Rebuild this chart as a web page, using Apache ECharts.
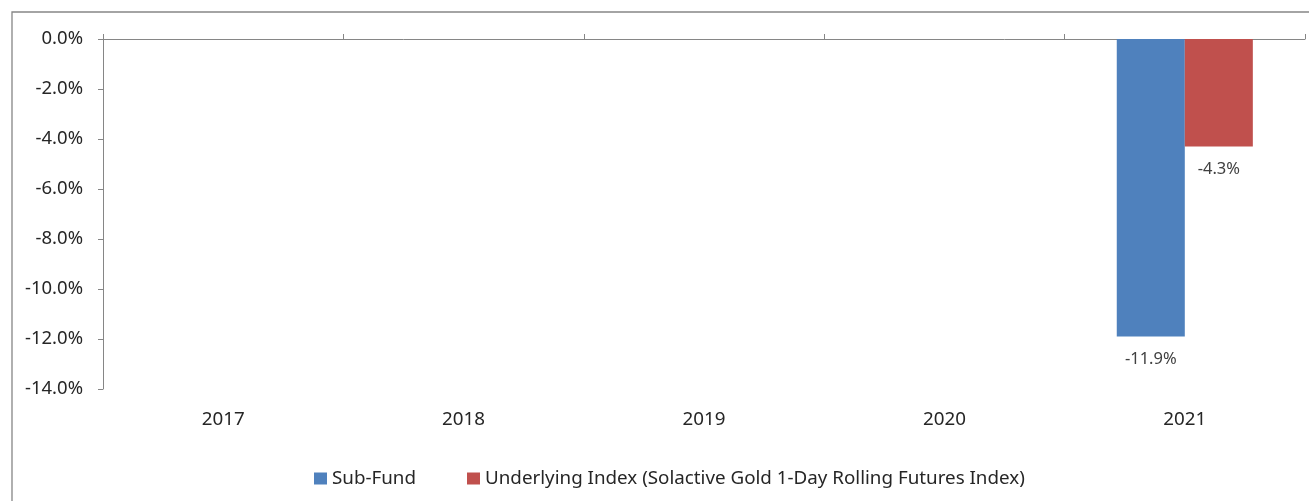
<!DOCTYPE html>
<html>
<head>
<meta charset="utf-8">
<script src="https://cdn.jsdelivr.net/npm/echarts@6/dist/echarts.min.js"></script>
<style>html,body{margin:0;padding:0;background:#fff}#c{width:1309px;height:501px}</style>
</head>
<body>
<div id="c"></div>
<script>
const categories = ['2017', '2018', '2019', '2020', '2021'];
const subFund = ['-', '-', '-', '-', -11.9];
const underlyingIndex = ['-', '-', '-', '-', -4.3];
const seriesNames = ['Sub-Fund', 'Underlying Index (Solactive Gold 1-Day Rolling Futures Index)'];

const FONT = 'Noto Sans';
const axisColor = '#868686';
const textColor = '#262626';

const chart = echarts.init(document.getElementById('c'), null, { renderer: 'canvas' });

const labelCfg = {
  show: true,
  position: 'bottom',
  distance: 14,
  fontFamily: FONT,
  fontSize: 16.5,
  color: '#404040',
  formatter: p => p.value.toFixed(1) + '%'
};

chart.setOption({
  animation: false,
  backgroundColor: '#fff',
  graphic: [{
    type: 'rect',
    shape: { x: 12, y: 12, width: 1400, height: 600 },
    style: { fill: 'none', stroke: axisColor, lineWidth: 1.3 },
    silent: true
  }],
  grid: { left: 103, right: 4, top: 39, bottom: 112, containLabel: false },
  legend: {
    left: 314,
    top: 469,
    padding: 0,
    itemWidth: 13,
    itemHeight: 12,
    itemGap: 51,
    icon: 'rect',
    textStyle: { fontFamily: FONT, fontSize: 18.8, color: textColor },
    data: seriesNames
  },
  xAxis: [{
    type: 'category',
    position: 'top',
    data: categories,
    axisLine: { show: true, lineStyle: { color: axisColor, width: 1 } },
    axisTick: { show: true, length: 5, lineStyle: { color: axisColor } },
    axisLabel: { show: false },
    splitLine: { show: false }
  }, {
    type: 'category',
    position: 'bottom',
    data: categories,
    axisLine: { show: false },
    axisTick: { show: false },
    axisLabel: { show: true, margin: 21, fontFamily: FONT, fontSize: 18.8, color: textColor },
    splitLine: { show: false }
  }],
  yAxis: {
    type: 'value',
    min: -14,
    max: 0,
    interval: 2,
    axisLine: { show: true, lineStyle: { color: axisColor, width: 1 } },
    axisTick: { show: true, length: 5, lineStyle: { color: axisColor } },
    axisLabel: { margin: 20, fontFamily: FONT, fontSize: 18.5, color: textColor, formatter: v => v.toFixed(1) + '%' },
    splitLine: { show: false }
  },
  series: [{
    name: seriesNames[0],
    type: 'bar',
    xAxisIndex: 0,
    data: subFund,
    barWidth: '28.3%',
    barGap: '0%',
    itemStyle: { color: '#4F81BD' },
    label: labelCfg
  }, {
    name: seriesNames[1],
    type: 'bar',
    xAxisIndex: 0,
    data: underlyingIndex,
    barWidth: '28.3%',
    barGap: '0%',
    itemStyle: { color: '#C0504D' },
    label: labelCfg
  }]
});
</script>
</body>
</html>
